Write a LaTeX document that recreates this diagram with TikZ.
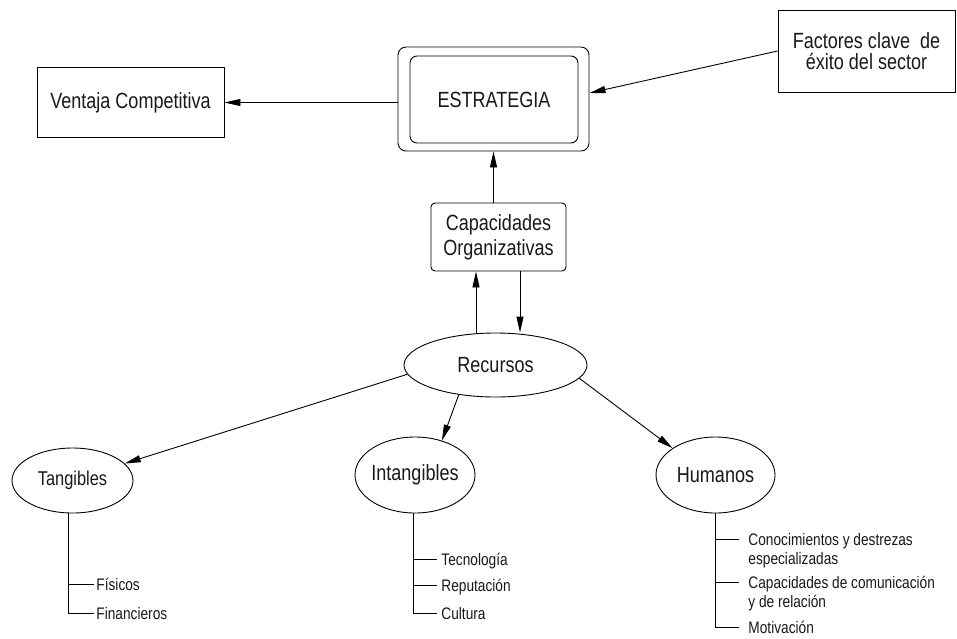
\documentclass[tikz,border=0pt]{standalone}
\usepackage{fontspec}
\setmainfont{Liberation Sans}[FakeStretch=0.82]
\usetikzlibrary{arrows.meta,shapes.geometric,calc}
\begin{document}
\begin{tikzpicture}[x=1pt,y=-1pt,
  line width=0.9pt,
  every node/.style={font=\fontsize{22}{25}\selectfont, text=black!90},
  box/.style={draw, rectangle, inner sep=0pt, align=center},
  oval/.style={draw, ellipse, inner sep=0pt},
  arr/.style={-{Triangle[length=16pt,width=7pt]}},
  leaf/.style={font=\fontsize{16.7}{19}\selectfont, inner ysep=0pt, text height=13pt, text depth=1pt, anchor=west},
  leafm/.style={font=\fontsize{16.7}{19}\selectfont, inner ysep=0pt, align=left, anchor=north west},
]
\useasboundingbox (0,0) rectangle (957,638);

% main boxes
\node[box, minimum width=187pt, minimum height=70pt] (vent) at (130.5,102.5) {Ventaja Competitiva};
\node[box, rounded corners=8pt, minimum width=191pt, minimum height=104pt] (estr) at (493.5,99) {};
\node[box, rounded corners=7pt, minimum width=168pt, minimum height=87pt] (estrin) at (494,99.5) {\raisebox{-2pt}{ESTRATEGIA}};
\node[box, minimum width=177pt, minimum height=82pt, font=\fontsize{22}{21}\selectfont] (fact) at (866.5,51) {Factores clave \ de\\éxito del sector};
\node[box, rounded corners=4pt, minimum width=135pt, minimum height=68pt] (cap) at (498.5,237) {Capacidades\\Organizativas};

% ellipses
\node[oval, minimum width=183pt, minimum height=64pt] (rec) at (495.5,365) {\makebox[0pt]{Recursos}};
\node[oval, minimum width=121pt, minimum height=65pt, font=\fontsize{20}{23}\selectfont] (tang) at (72.5,480.5) {\makebox[0pt]{Tangibles}};
\node[oval, minimum width=120pt, minimum height=76pt] (intang) at (415,475) {\makebox[0pt]{Intangibles}};
\node[oval, minimum width=119pt, minimum height=76pt] (hum) at (715.5,475) {\makebox[0pt]{Humanos}};

% arrows
\draw[arr] (estr.west |- vent.east) -- (vent.east);
\draw[arr] (fact.west) -- ($(estr.east)+(0,-6)$);
\draw[arr] (cap.north -| estr.south) -- (estr.south);
\draw[arr] ([xshift=-19.5pt]rec.north) -- ([xshift=-22.5pt]cap.south);
\draw[arr] ([xshift=21.5pt]cap.south) -- ([xshift=24.5pt]rec.north);
\draw[arr] (rec.186) -- (tang.18);
\draw[arr] (rec.219) -- (intang.52);
\draw[arr] (rec.351) -- (hum.148);

% Tangibles branches
\node[leaf, inner xsep=2pt] (fis) at (94,584) {Físicos};
\node[leaf, inner xsep=2pt] (fin) at (94,613) {Financieros};
\coordinate (tt) at ($(tang.south)+(-4.5,0)$);
\draw (tt) |- (fin.west);
\draw (tt |- fis.west) -- (fis.west);

% Intangibles branches
\node[leaf, inner xsep=4pt] (tec) at (437,559) {Tecnología};
\node[leaf, inner xsep=4pt] (rep) at (437,585) {Reputación};
\node[leaf, inner xsep=4pt] (cul) at (437,613) {Cultura};
\coordinate (it) at ($(intang.south)+(-2,0)$);
\draw (it) |- (cul.west);
\draw (it |- tec.west) -- (tec.west);
\draw (it |- rep.west) -- (rep.west);

% Humanos branches
\node[leafm, inner xsep=9pt] (cono) at (739,532) {\rule{0pt}{13pt}Conocimientos y destrezas\\especializadas};
\node[leafm, inner xsep=9pt] (capc) at (739,575) {\rule{0pt}{13pt}Capacidades de comunicación\\y de relación};
\node[leaf, inner xsep=9pt] (mot) at (739,627.5) {Motivación};
\coordinate (h1) at (715.5,539);
\coordinate (h2) at (715.5,582);
\draw (hum.south) |- (mot.west);
\draw (h1) -- (h1 -| cono.west);
\draw (h2) -- (h2 -| capc.west);
\end{tikzpicture}
\end{document}
